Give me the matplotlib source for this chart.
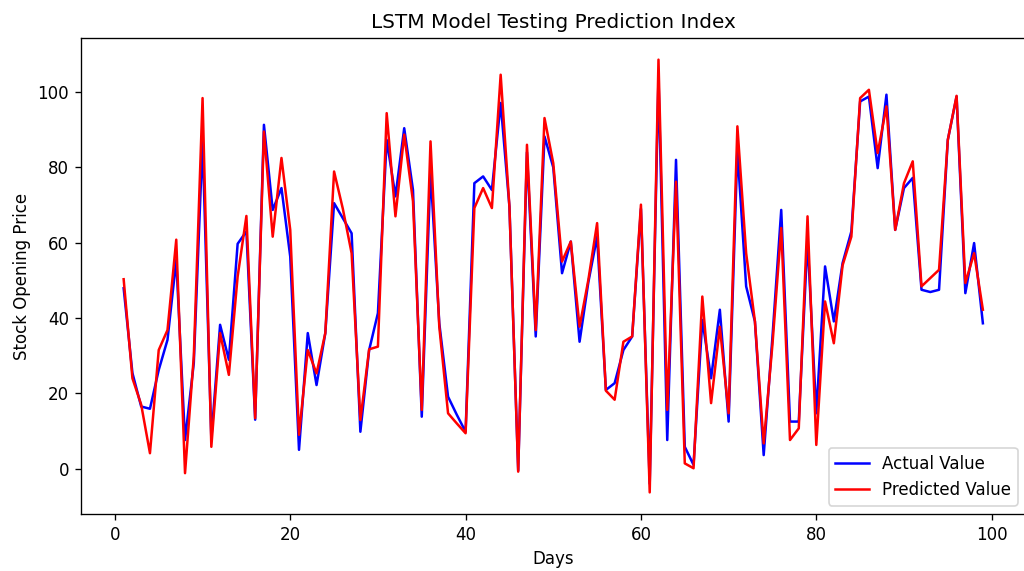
import matplotlib
matplotlib.use('Agg')
import matplotlib.pyplot as plt
import numpy as np

days = np.arange(1, 100)

actual = [
    47.9, 25.4, 16.5, 15.9, 26.2, 34.2, 55.4, 7.6, 28.0, 87.0,
    8.0, 38.2, 28.9, 59.7, 63.0, 13.0, 91.3, 68.7, 74.5, 56.3,
    5.0, 36.0, 22.2, 36.0, 70.5, 66.5, 62.5, 9.8, 31.5, 41.3,
    87.3, 72.3, 90.4, 74.0, 13.8, 79.0, 38.6, 19.1, 14.3, 9.8,
    75.8, 77.6, 74.0, 97.1, 69.6, -0.5, 84.0, 35.1, 88.2, 80.0,
    51.9, 60.3, 33.7, 49.5, 61.6, 20.9, 22.7, 31.5, 35.1, 69.0,
    -4.0, 104.0, 7.6, 82.0, 5.8, 1.0, 39.5, 24.0, 42.2, 12.5,
    84.7, 48.4, 39.1, 3.6, 35.0, 68.7, 12.5, 12.5, 60.8, 14.7,
    53.7, 39.1, 54.6, 63.0, 97.5, 98.8, 79.8, 99.3, 63.4, 74.5,
    77.2, 47.5, 46.9, 47.5, 87.3, 98.8, 46.6, 59.9, 38.6,
]

predicted = [
    50.3, 24.0, 17.0, 4.1, 31.5, 36.8, 60.8, -1.2, 29.8, 98.4,
    5.8, 36.0, 24.9, 51.0, 67.1, 13.4, 89.5, 61.6, 82.5, 63.4,
    9.0, 31.5, 25.3, 36.0, 78.9, 69.0, 57.2, 12.9, 31.7, 32.4,
    94.4, 67.0, 88.7, 71.0, 15.6, 86.9, 37.7, 14.7, 12.0, 9.4,
    69.2, 74.5, 69.2, 104.6, 69.6, -0.8, 86.0, 36.8, 93.1, 81.1,
    55.0, 60.3, 37.7, 50.1, 65.2, 20.7, 18.3, 33.7, 35.1, 70.1,
    -6.3, 108.6, 15.6, 76.2, 1.4, 0.1, 45.7, 17.4, 37.7, 14.7,
    90.9, 57.2, 39.1, 6.7, 33.0, 63.9, 7.6, 10.7, 67.0, 6.3,
    44.4, 33.3, 54.0, 61.6, 98.4, 100.6, 83.8, 96.2, 63.4, 75.8,
    81.6, 48.4, 50.6, 52.8, 87.3, 99.0, 49.3, 57.2, 42.2,
]

DPI = 120
fig = plt.figure(figsize=(1024/DPI, 571/DPI), dpi=DPI)
# axes run past the right edge like in the reference crop
ax = fig.add_axes([0.0788, 0.0998, 0.923, 0.8336])

ax.plot(days, actual, color='blue', label='Actual Value')
ax.plot(days, predicted, color='red', label='Predicted Value')

ax.set_title('LSTM Model Testing Prediction Index')
ax.set_xlabel('Days')
ax.set_ylabel('Stock Opening Price')
ax.legend(loc='lower right')

fig.savefig('out.png', dpi=DPI)
